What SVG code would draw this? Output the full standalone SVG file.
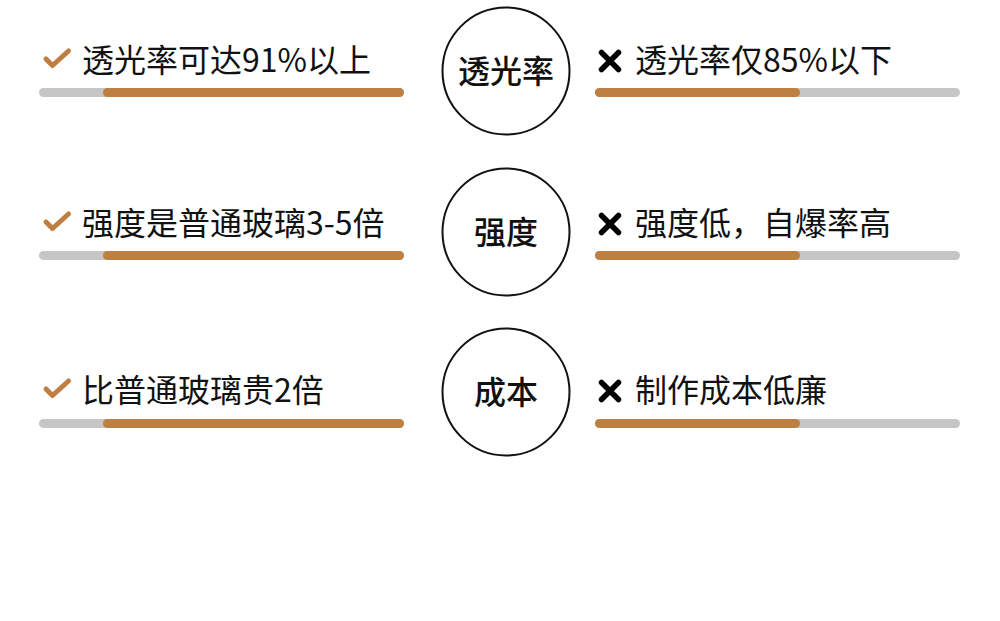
<svg xmlns="http://www.w3.org/2000/svg" width="1000" height="621" viewBox="0 0 1000 621">
<style>
.t{font-family:"Noto Sans CJK SC","Noto Sans",sans-serif;font-size:32px;fill:#111}
.c{font-family:"Noto Sans CJK SC","Noto Sans",sans-serif;font-size:32px;font-weight:500;fill:#111;text-anchor:middle}
.ring{fill:#fff;stroke:#111;stroke-width:2}
.bg{fill:#c6c6c6}
.fg{fill:#be7f42}
.chk{fill:none;stroke:#be7f42;stroke-width:5;stroke-linecap:round;stroke-linejoin:round}
.x{fill:none;stroke:#000;stroke-width:5.5;stroke-linecap:round}
</style>
<rect width="1000" height="621" fill="#fff"/>
<defs>
<path id="check" class="chk" d="M-0 0 L6.5 6.5 L22.5 -8"/>
<path id="cross" class="x" d="M-8.5 -8.5 L8.5 8.5 M8.5 -8.5 L-8.5 8.5"/>
</defs>
<g id="row1">
<g id="node-left-1">
<use href="#check" x="46" y="59"/>
<text class="t" x="82" y="72">透光率可达91%以上</text>
<rect class="bg" x="39" y="88" width="365" height="9" rx="4.5"/>
<rect class="fg" x="103" y="88" width="301" height="9" rx="4.5"/>
</g>
<g id="node-center-1">
<circle class="ring" cx="506" cy="71" r="63.5"/>
<text class="c" x="506" y="83">透光率</text>
</g>
<g id="node-right-1">
<use href="#cross" x="610" y="61"/>
<text class="t" x="635" y="72">透光率仅85%以下</text>
<rect class="bg" x="595" y="88" width="365" height="9" rx="4.5"/>
<rect class="fg" x="595" y="88" width="205" height="9" rx="4.5"/>
</g>
</g>
<g id="row2">
<g id="node-left-2">
<use href="#check" x="46" y="222"/>
<text class="t" x="82" y="235">强度是普通玻璃3-5倍</text>
<rect class="bg" x="39" y="251" width="365" height="9" rx="4.5"/>
<rect class="fg" x="103" y="251" width="301" height="9" rx="4.5"/>
</g>
<g id="node-center-2">
<circle class="ring" cx="506" cy="232" r="63.5"/>
<text class="c" x="506" y="244">强度</text>
</g>
<g id="node-right-2">
<use href="#cross" x="610" y="224"/>
<text class="t" x="635" y="235">强度低，自爆率高</text>
<rect class="bg" x="595" y="251" width="365" height="9" rx="4.5"/>
<rect class="fg" x="595" y="251" width="205" height="9" rx="4.5"/>
</g>
</g>
<g id="row3">
<g id="node-left-3">
<use href="#check" x="46" y="389"/>
<text class="t" x="82" y="402">比普通玻璃贵2倍</text>
<rect class="bg" x="39" y="419" width="365" height="9" rx="4.5"/>
<rect class="fg" x="103" y="419" width="301" height="9" rx="4.5"/>
</g>
<g id="node-center-3">
<circle class="ring" cx="506" cy="392" r="63.5"/>
<text class="c" x="506" y="404">成本</text>
</g>
<g id="node-right-3">
<use href="#cross" x="610" y="391"/>
<text class="t" x="635" y="402">制作成本低廉</text>
<rect class="bg" x="595" y="419" width="365" height="9" rx="4.5"/>
<rect class="fg" x="595" y="419" width="205" height="9" rx="4.5"/>
</g>
</g>
<g id="connectors"/>
</svg>
